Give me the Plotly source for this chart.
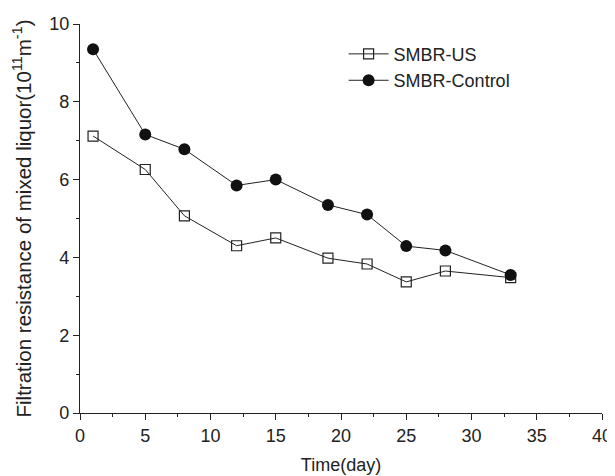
import plotly.graph_objects as go

days = [1, 5, 8, 12, 15, 19, 22, 25, 28, 33]
smbr_us = [7.12, 6.26, 5.07, 4.30, 4.50, 3.98, 3.83, 3.37, 3.65, 3.48]
smbr_control = [9.35, 7.16, 6.78, 5.85, 6.00, 5.35, 5.10, 4.29, 4.18, 3.55]

fig = go.Figure()
fig.add_trace(go.Scatter(
    x=days, y=smbr_us, name="SMBR-US", mode="lines+markers",
    line=dict(color="#222", width=1),
    marker=dict(symbol="square-open", size=10, color="#222", line=dict(width=1.2)),
))
fig.add_trace(go.Scatter(
    x=days, y=smbr_control, name="SMBR-Control", mode="lines+markers",
    line=dict(color="#222", width=1),
    marker=dict(symbol="circle", size=12, color="#111"),
))

font = "Liberation Sans, Arial, sans-serif"
fig.update_layout(
    width=607, height=468,
    margin=dict(l=72, r=13, t=16, b=63),
    paper_bgcolor="white", plot_bgcolor="white",
    font=dict(family=font, size=17, color="#222"),
    showlegend=True,
    legend=dict(x=0.505, y=0.97, xanchor="left", yanchor="top",
                bgcolor="rgba(0,0,0,0)", font=dict(size=18), tracegroupgap=0,
                itemwidth=40),
    xaxis=dict(
        range=[0, 40], dtick=5, tick0=0, showgrid=False, zeroline=False,
        showline=True, linecolor="#222", linewidth=1.2, automargin=False,
        ticks="outside", ticklen=6, tickwidth=1.2, tickcolor="#222",
        minor=dict(dtick=2.5, ticks="outside", ticklen=3, tickcolor="#222", tickwidth=1.2),
        title=dict(text="Time(day)", font=dict(size=18), standoff=13),
        tickfont=dict(size=18),
    ),
    yaxis=dict(
        range=[0, 10], dtick=2, tick0=0, showgrid=False, zeroline=False,
        showline=True, linecolor="#222", linewidth=1.2, automargin=False,
        ticks="outside", ticklen=6, tickwidth=1.2, tickcolor="#222",
        minor=dict(dtick=1, ticks="outside", ticklen=3, tickcolor="#222", tickwidth=1.2),
        title=dict(text="Filtration resistance of mixed liquor(10<sup>11</sup>m<sup>-1</sup>)",
                   font=dict(size=20.5), standoff=12),
        tickfont=dict(size=18),
    ),
)

fig.write_html("out.html")
